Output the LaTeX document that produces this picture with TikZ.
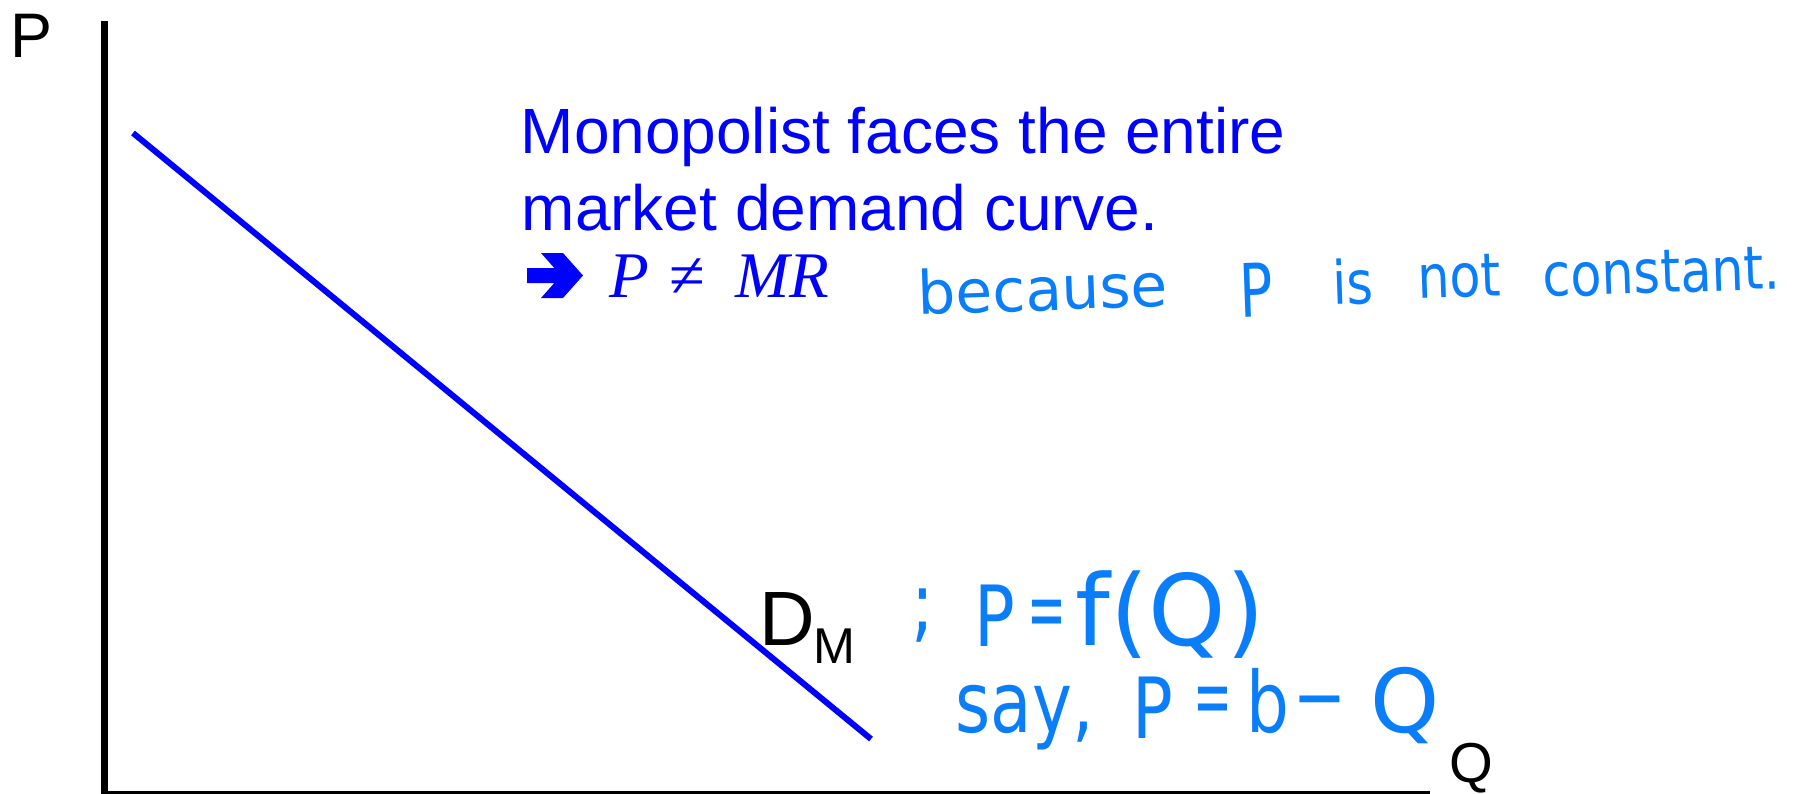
\documentclass[tikz,border=0pt]{standalone}
\usepackage{fontspec}
\usepackage{graphicx}
\setmainfont{Liberation Sans}
\newfontfamily\handfont{DejaVu Sans}
\newfontfamily\serifmath{Liberation Serif}
\definecolor{mainblue}{RGB}{0,0,255}
\definecolor{handblue}{RGB}{10,125,250}
\newcommand{\hw}[2][0.85]{\scalebox{#1}[1]{#2}}
\tikzset{
  axisline/.style={line width=0.065cm, black},
  demandline/.style={line width=0.06cm, mainblue},
  lbl/.style={inner sep=0pt, anchor=base west},
  maintext/.style={lbl, text=mainblue, font=\fontsize{18.2}{21.9}\selectfont},
  hand/.style={lbl, text=handblue, font=\handfont\fontsize{17}{20}\selectfont, rotate=2},
  handbig/.style={lbl, text=handblue, font=\handfont\fontsize{24}{28}\selectfont},
}
\begin{document}
\begin{tikzpicture}[x=0.01cm, y=-0.01cm]
\useasboundingbox (0,0) rectangle (1793,793);
\clip (0,0) rectangle (1793,793);
\fill[white] (0,0) rectangle (1793,793);

% axes
\coordinate (ytop) at (104.5,21);
\coordinate (origin) at (104.5,794);
\coordinate (xend) at (1430,794);
\draw[axisline] (ytop) -- (origin) -- (xend);
\node[lbl, font=\fontsize{17.9}{20}\selectfont] (plabel) at (10,57) {P};
\node[lbl, font=\fontsize{16}{19}\selectfont] (qlabel) at (1449,782) {Q};

% demand curve
\coordinate (d1) at (133,133);
\coordinate (d2) at (871,739);
\draw[demandline] (d1) -- (d2);
\node[lbl, font=\fontsize{21.9}{24}\selectfont] (dm) at (759,645) {D};
\node[lbl, font=\fontsize{14.3}{16}\selectfont] (dmsub) at (813,663) {M};

% typed text
\node[maintext] (line1) at (520,153) {Monopolist faces the entire};
\node[maintext] (line2) at (521,230) {market demand curve.};
\fill[mainblue] (527,268) -- (554.3,268) -- (541,253) -- (563,253) -- (583,275.5)
  -- (563,298) -- (541,298) -- (554.3,283) -- (527,283) -- cycle;
\node[lbl, text=mainblue, font=\serifmath\itshape\fontsize{18.5}{21}\selectfont] (pmr) at (609,297)
  {\makebox[0.6cm][l]{P}\makebox[0.66cm][l]{\upshape ≠}MR};

% handwritten notes
\node[hand] (hw1) at (918,315) {\hw[1.0]{because}};
\node[hand, font=\handfont\fontsize{21}{24}\selectfont] (hw2) at (1240,318) {\hw[0.75]{P}};
\node[hand] (hw3) at (1333,305) {\hw{is}};
\node[hand] (hw4) at (1418,299) {\hw{not}};
\node[hand] (hw5) at (1543,297) {\hw{constant.}};

\node[handbig] (hs1) at (911,632) {\hw[0.8]{;}};
\node[handbig] (hs2) at (974,646) {\hw[0.8]{P}};
\node[handbig] (hs3) at (1027,638) {\hw[0.55]{=}};
\node[handbig, font=\handfont\fontsize{28}{32}\selectfont] (hs4) at (1075,645) {\hw[1.0]{f(Q)}};
\node[handbig] (hs5) at (955,732) {\hw[0.8]{say,}};
\node[handbig] (hs6) at (1132,738) {\hw[0.8]{P}};
\node[handbig] (hs7) at (1193,725) {\hw[0.55]{=}};
\node[handbig] (hs8) at (1246,732) {\hw[0.8]{b}};
\node[handbig] (hs9) at (1292,722) {\hw[1.8]{-}};
\node[handbig, font=\handfont\fontsize{25}{29}\selectfont] (hs10) at (1370,732) {\hw[1.0]{Q}};
\end{tikzpicture}
\end{document}
